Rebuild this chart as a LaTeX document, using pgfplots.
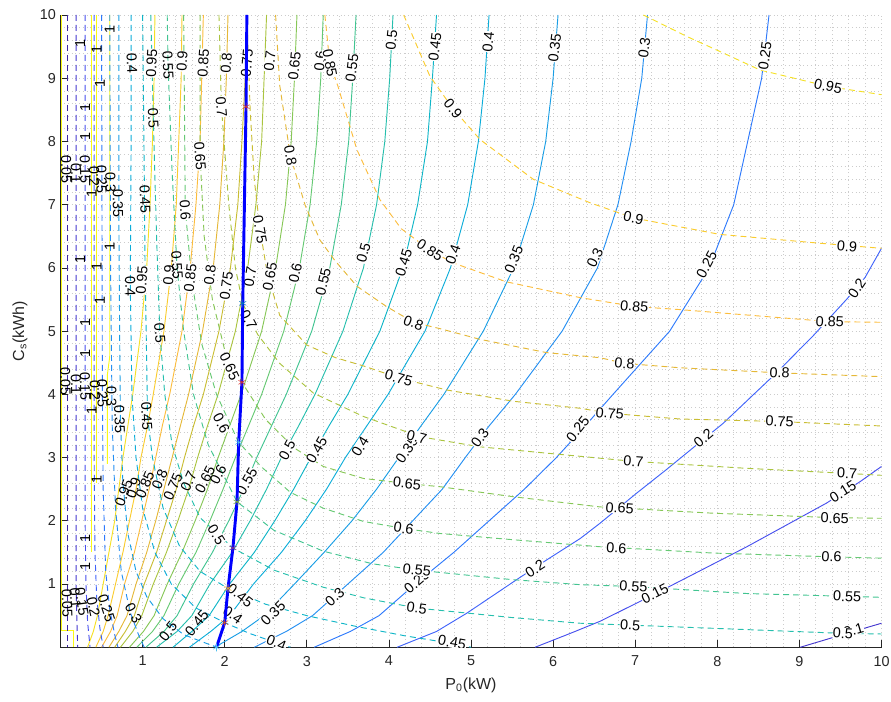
\documentclass[border=0pt]{standalone}
\usepackage{fontspec}
\setmainfont{Liberation Sans}
\usepackage{pgfplots}
\pgfplotsset{compat=1.18}
\definecolor{tickgray}{rgb}{0.15,0.15,0.15}
\definecolor{v05}{rgb}{0.24,0.15,0.66}
\definecolor{v10}{rgb}{0.27,0.22,0.81}
\definecolor{v15}{rgb}{0.28,0.31,0.93}
\definecolor{v20}{rgb}{0.25,0.39,0.98}
\definecolor{v25}{rgb}{0.18,0.48,0.99}
\definecolor{v30}{rgb}{0.14,0.56,0.95}
\definecolor{v35}{rgb}{0.10,0.62,0.90}
\definecolor{v40}{rgb}{0.05,0.68,0.85}
\definecolor{v45}{rgb}{0.06,0.71,0.78}
\definecolor{v50}{rgb}{0.15,0.75,0.68}
\definecolor{v55}{rgb}{0.26,0.77,0.57}
\definecolor{v60}{rgb}{0.40,0.79,0.45}
\definecolor{v65}{rgb}{0.53,0.78,0.34}
\definecolor{v70}{rgb}{0.67,0.77,0.25}
\definecolor{v75}{rgb}{0.79,0.74,0.20}
\definecolor{v80}{rgb}{0.90,0.72,0.22}
\definecolor{v85}{rgb}{0.99,0.74,0.24}
\definecolor{v90}{rgb}{0.98,0.80,0.19}
\definecolor{v95}{rgb}{0.96,0.88,0.15}
\definecolor{v100}{rgb}{0.98,0.98,0.08}
\definecolor{mblue}{rgb}{0,0.447,0.741}
\definecolor{morange}{rgb}{0.85,0.325,0.098}
\definecolor{myellow}{rgb}{0.929,0.694,0.125}
\definecolor{mpurple}{rgb}{0.494,0.184,0.556}
\definecolor{mgreen}{rgb}{0.466,0.674,0.188}
\definecolor{mcyan}{rgb}{0.301,0.745,0.933}
\definecolor{mred}{rgb}{0.85,0.2,0.15}
\tikzset{
  S/.style={solid, line width=0.7pt, mark=none},
  D/.style={dash pattern=on 4.5pt off 3pt, line width=0.7pt, mark=none},
  lbl/.style={font=\fontsize{10.8}{12}\selectfont, inner sep=0.3pt, fill=white, text=black},
  lbn/.style={font=\fontsize{10.8}{12}\selectfont, inner sep=0.3pt, text=black},
}
\newcommand{\lab}[4]{\node[lbl,rotate=#3] at (axis cs:#1,#2) {#4};}
\newcommand{\lan}[4]{\node[lbn,rotate=#3] at (axis cs:#1,#2) {#4};}
\begin{document}
\begin{tikzpicture}
\path[use as bounding box] (-45.375pt,-41pt) rectangle (622.875pt,485.45pt);
\begin{axis}[
  at={(0pt,0pt)}, anchor=south west,
  scale only axis, width=615.75pt, height=474.2pt,
  xmin=0, xmax=10, ymin=0, ymax=10,
  xtick={1,2,3,4,5,6,7,8,9,10}, ytick={1,2,3,4,5,6,7,8,9,10},
  minor x tick num=4, minor y tick num=4,
  grid=both,
  major grid style={dash pattern=on 0.6pt off 2.2pt, gray!40, line width=0.5pt},
  minor grid style={dash pattern=on 0.6pt off 2.2pt, gray!40, line width=0.5pt},
  axis x line*=bottom, axis y line*=left,
  x axis line style={-, tickgray, line width=0.6pt},
  y axis line style={-, tickgray, line width=0.6pt},
  tick align=inside, major tick length=5.8pt, minor tick length=0pt,
  tick style={tickgray, line width=0.6pt},
  /pgf/number format/assume math mode=true,
  ticklabel style={font=\fontsize{10.8}{12}\selectfont, text=tickgray},
  xticklabel style={yshift=-3pt},
  xlabel={P\textsubscript{0}(kW)}, ylabel={C\textsubscript{s}(kWh)},
  xlabel style={at={(axis description cs:0.5,-0.0601)}, anchor=center, font=\fontsize{12}{14}\selectfont, text=tickgray},
  ylabel style={at={(axis description cs:-0.0494,0.5)}, anchor=center, rotate=0, font=\fontsize{12}{14}\selectfont, text=tickgray},
]
% ---------------- solid family ----------------
\addplot[S, v100] coordinates {(0.015,10)(0.015,0.27)(0.16,0.27)(0.16,0)};
\addplot[S, v100] coordinates {(0.38,10)(0.38,1.5)};
\addplot[S, v100] coordinates {(0.44,10)(0.44,2.6)};
\addplot[S, v100] coordinates {(0.60,10)(0.60,4.6)(0.57,4.3)(0.57,2.9)};
\addplot[S, v95] coordinates {(0.33,0)(0.40,0.25)(0.45,0.5)(0.52,1)(0.59,1.5)(0.66,2)(0.71,2.5)(0.76,3)(0.82,3.5)(0.88,4)(0.98,5)(1.05,6)(1.09,7)(1.12,8)(1.14,9)(1.15,10)};
\addplot[S, v90] coordinates {(0.43,0)(0.52,0.25)(0.58,0.5)(0.67,1)(0.76,1.5)(0.84,2)(0.92,2.5)(0.98,3)(1.06,3.5)(1.13,4)(1.26,5)(1.35,6)(1.41,7)(1.44,8)(1.47,9)(1.48,10)};
\addplot[S, v85] coordinates {(0.50,0)(0.61,0.25)(0.69,0.5)(0.78,1)(0.90,1.5)(0.99,2)(1.08,2.5)(1.16,3)(1.24,3.5)(1.33,4)(1.48,5)(1.58,6)(1.65,7)(1.70,8)(1.72,9)(1.74,10)};
\addplot[S, v80] coordinates {(0.59,0)(0.71,0.25)(0.81,0.5)(0.92,1)(1.05,1.5)(1.16,2)(1.26,2.5)(1.36,3)(1.46,3.5)(1.56,4)(1.73,5)(1.86,6)(1.94,7)(1.99,8)(2.02,9)(2.04,10)};
\addplot[S, v75] coordinates {(0.66,0)(0.79,0.25)(0.90,0.5)(1.02,1)(1.17,1.5)(1.29,2)(1.41,2.5)(1.51,3)(1.62,3.5)(1.74,4)(1.93,5)(2.07,6)(2.16,7)(2.21,8)(2.25,9)(2.27,10)};
\addplot[S, v70] coordinates {(0.73,0)(0.88,0.25)(0.99,0.5)(1.13,1)(1.29,1.5)(1.43,2)(1.56,2.5)(1.67,3)(1.79,3.5)(1.92,4)(2.13,5)(2.28,6)(2.38,7)(2.45,8)(2.48,9)(2.51,10)};
\addplot[S, v65] coordinates {(0.84,0)(1.01,0.25)(1.14,0.5)(1.30,1)(1.48,1.5)(1.64,2)(1.79,2.5)(1.92,3)(2.06,3.5)(2.20,4)(2.45,5)(2.62,6)(2.74,7)(2.81,8)(2.85,9)(2.88,10)};
\addplot[S, v60] coordinates {(0.93,0)(1.12,0.25)(1.26,0.5)(1.44,1)(1.65,1.5)(1.82,2)(1.98,2.5)(2.13,3)(2.29,3.5)(2.45,4)(2.72,5)(2.91,6)(3.04,7)(3.12,8)(3.17,9)(3.20,10)};
\addplot[S, v55] coordinates {(1.04,0)(1.26,0.25)(1.42,0.5)(1.62,1)(1.85,1.5)(2.05,2)(2.23,2.5)(2.39,3)(2.57,3.5)(2.75,4)(3.06,5)(3.28,6)(3.42,7)(3.51,8)(3.56,9)(3.60,10)};
\addplot[S, v50] coordinates {(1.17,0)(1.42,0.25)(1.60,0.5)(1.82,1)(2.09,1.5)(2.31,2)(2.51,2.5)(2.69,3)(2.90,3.5)(3.10,4)(3.44,5)(3.69,6)(3.85,7)(3.95,8)(4.01,9)(4.05,10)};
\addplot[S, v45] coordinates {(1.37,0)(1.60,0.25)(1.81,0.5)(2.06,1)(2.36,1.5)(2.61,2)(2.84,2.5)(3.05,3)(3.27,3.5)(3.50,4)(3.89,5)(4.17,6)(4.35,7)(4.47,8)(4.53,9)(4.58,10)};
\addplot[S, v40] coordinates {(1.57,0)(1.83,0.25)(2.06,0.5)(2.35,1)(2.69,1.5)(2.98,2)(3.24,2.5)(3.47,3)(3.73,3.5)(3.99,4)(4.44,5)(4.75,6)(4.96,7)(5.09,8)(5.17,9)(5.22,10)};
\addplot[S, v35] coordinates {(1.88,0)(2.21,0.25)(2.48,0.5)(2.85,1)(3.21,1.5)(3.55,2)(3.85,2.5)(4.12,3)(4.39,3.5)(4.67,4)(5.15,5)(5.52,6)(5.76,7)(5.91,8)(6.00,9)(6.06,10)};
\addplot[S, v30] coordinates {(2.36,0)(2.75,0.25)(3.07,0.5)(3.50,1)(3.93,1.5)(4.29,2)(4.65,2.5)(4.93,3)(5.22,3.5)(5.54,4)(6.11,5)(6.54,6)(6.79,7)(6.95,8)(7.08,9)(7.15,10)};
\addplot[S, v25] coordinates {(3.09,0)(3.53,0.25)(3.88,0.5)(4.32,1)(4.79,1.5)(5.22,2)(5.65,2.5)(6.04,3)(6.39,3.5)(6.73,4)(7.42,5)(7.90,6)(8.20,7)(8.37,8)(8.54,9)(8.63,10)};
\addplot[S, v20] coordinates {(4.10,0)(4.58,0.25)(4.95,0.54)(5.58,1.09)(5.92,1.38)(6.33,1.72)(6.57,1.96)(7.02,2.44)(7.38,2.81)(7.87,3.33)(8.07,3.54)(8.72,4.34)(9.17,4.93)(9.58,5.51)(9.80,5.85)(10,6.31)};
\addplot[S, v15] coordinates {(5.78,0)(6.21,0.22)(6.57,0.41)(7.02,0.70)(7.46,0.99)(8.36,1.59)(9.33,2.28)(9.74,2.62)(10,2.86)};
\addplot[S, v10] coordinates {(9.01,0)(9.50,0.19)(10,0.38)};
% ---------------- dashed family ----------------
\addplot[D, v05] coordinates {(0.08,10)(0.08,0)};
\addplot[D, v10] coordinates {(0.19,10)(0.19,1.0)(0.20,0.4)(0.21,0)};
\addplot[D, v15] coordinates {(0.30,10)(0.30,2.0)(0.31,1.0)(0.33,0.4)(0.36,0)};
\addplot[D, v20] coordinates {(0.41,10)(0.41,3.0)(0.42,1.5)(0.44,0.8)(0.48,0.3)(0.52,0)};
\addplot[D, v25] coordinates {(0.50,10)(0.51,4.0)(0.52,2.5)(0.55,1.2)(0.60,0.6)(0.66,0.2)(0.70,0)};
\addplot[D, v30] coordinates {(0.60,10)(0.61,6.0)(0.63,3.5)(0.67,2.2)(0.74,1.2)(0.85,0.55)(0.95,0.2)(1.02,0)};
\addplot[D, v35] coordinates {(0.71,10)(0.71,7.0)(0.72,5.0)(0.73,3.6)(0.76,2.6)(0.82,1.8)(0.92,1.2)(1.05,0.8)(1.25,0.45)(1.50,0.2)(1.90,0)};
\addplot[D, v40] coordinates {(0.86,10)(0.86,8.0)(0.85,5.7)(0.87,4.0)(0.92,3.0)(1.00,2.2)(1.15,1.5)(1.35,1.0)(1.65,0.62)(2.00,0.39)(2.30,0.22)(2.63,0.07)(2.80,0)};
\addplot[D, v45] coordinates {(1.00,10)(1.02,7.5)(1.03,6.0)(1.05,4.5)(1.06,3.65)(1.12,3.0)(1.25,2.2)(1.45,1.6)(1.70,1.2)(2.04,0.93)(2.50,0.68)(3.00,0.50)(3.60,0.33)(4.20,0.18)(4.77,0.06)(5.00,0)};
\addplot[D, v50] coordinates {(1.10,10)(1.13,8.37)(1.17,6.5)(1.21,4.97)(1.27,4.0)(1.36,3.2)(1.50,2.6)(1.70,2.05)(2.10,1.57)(2.60,1.22)(3.20,0.95)(3.70,0.78)(4.34,0.62)(5.50,0.47)(6.33,0.38)(6.94,0.35)(7.95,0.30)(9.53,0.22)(10,0.21)};
\addplot[D, v55] coordinates {(1.30,10)(1.31,9.21)(1.36,7.5)(1.42,6.0)(1.50,5.0)(1.62,4.0)(1.80,3.2)(2.15,2.30)(2.60,1.85)(3.20,1.52)(3.80,1.32)(4.34,1.22)(5.50,1.07)(6.33,0.99)(6.98,0.96)(8.36,0.85)(10,0.79)};
\addplot[D, v60] coordinates {(1.50,10)(1.51,8.5)(1.52,6.92)(1.60,5.8)(1.72,4.8)(1.90,4.0)(2.17,3.24)(2.45,2.85)(2.80,2.45)(3.20,2.20)(3.69,1.99)(4.18,1.88)(4.62,1.80)(5.52,1.70)(6.57,1.59)(7.95,1.49)(9.39,1.43)(10,1.41)};
\addplot[D, v65] coordinates {(1.70,10)(1.70,7.77)(1.75,6.5)(1.85,5.5)(2.00,4.7)(2.21,4.19)(2.50,3.6)(2.85,3.15)(3.20,2.86)(3.69,2.67)(4.22,2.59)(4.62,2.54)(5.52,2.38)(6.57,2.22)(7.95,2.12)(9.43,2.05)(10,2.04)};
\addplot[D, v70] coordinates {(1.93,10)(1.96,8.55)(2.05,7.0)(2.13,6.0)(2.22,5.44)(2.40,4.95)(2.67,4.49)(3.08,4.02)(3.69,3.65)(4.38,3.33)(5.11,3.17)(6.33,3.02)(6.98,2.94)(8.36,2.83)(9.58,2.75)(10,2.72)};
\addplot[D, v75] coordinates {(2.27,10)(2.31,8.5)(2.36,7.4)(2.43,6.61)(2.52,5.9)(2.67,5.25)(3.00,4.78)(3.35,4.58)(3.69,4.45)(4.12,4.26)(4.70,4.07)(5.52,3.89)(6.33,3.78)(6.69,3.70)(7.55,3.61)(8.76,3.57)(10,3.50)};
\addplot[D, v80] coordinates {(2.62,10)(2.67,8.89)(2.80,7.77)(2.98,6.99)(3.16,6.44)(3.34,6.12)(3.61,5.71)(3.97,5.39)(4.30,5.14)(4.62,5.04)(5.11,4.87)(5.92,4.66)(6.57,4.58)(6.87,4.49)(7.55,4.42)(8.76,4.34)(10,4.28)};
\addplot[D, v85] coordinates {(3.22,10)(3.28,9.24)(3.38,8.87)(3.61,7.87)(3.89,7.08)(4.15,6.62)(4.50,6.28)(4.78,6.08)(5.43,5.78)(6.33,5.53)(6.99,5.39)(7.55,5.34)(8.60,5.23)(9.37,5.15)(10,5.14)};
\addplot[D, v90] coordinates {(4.18,10)(4.50,9.03)(4.78,8.52)(5.11,8.03)(5.76,7.40)(6.45,7.03)(6.98,6.79)(8.03,6.53)(9.25,6.39)(10,6.31)};
\addplot[D, v95] coordinates {(7.10,10)(7.63,9.66)(8.07,9.40)(8.52,9.13)(9.35,8.87)(10,8.74)};
% ---------------- labels: solid family ----------------
\lab{1.11}{9.24}{87}{0.95} \lab{1.48}{9.27}{86}{0.9} \lab{1.74}{9.24}{86}{0.85}
\lab{2.02}{9.24}{85}{0.8} \lab{2.27}{9.24}{85}{0.75} \lab{2.55}{9.27}{84}{0.7}
\lab{2.85}{9.19}{84}{0.65} \lab{3.16}{9.27}{84}{0.6} \lab{3.55}{9.16}{83}{0.55}
\lab{4.03}{9.61}{84}{0.5} \lab{4.56}{9.50}{83}{0.45} \lab{5.21}{9.58}{84}{0.4}
\lab{6.02}{9.48}{83}{0.35} \lab{7.11}{9.48}{82}{0.3} \lab{8.58}{9.35}{82}{0.25}
\lab{0.99}{5.81}{86}{0.95} \lab{1.32}{5.88}{85}{0.9} \lab{1.58}{5.84}{84}{0.85}
\lab{1.82}{5.89}{83}{0.8} \lab{2.02}{5.71}{82}{0.75} \lab{2.31}{5.86}{81}{0.7}
\lab{2.55}{5.86}{79}{0.65} \lab{2.86}{5.92}{78}{0.6} \lab{3.20}{5.78}{77}{0.55}
\lab{3.69}{6.24}{75}{0.5} \lab{4.18}{6.08}{73}{0.45} \lab{4.78}{6.21}{71}{0.4}
\lab{5.52}{6.13}{68}{0.35} \lab{6.51}{6.16}{65}{0.3} \lab{7.87}{6.05}{62}{0.25}
\lab{9.70}{5.68}{56}{0.2}
\lab{2.76}{3.12}{62}{0.5} \lab{3.12}{3.12}{60}{0.45} \lab{3.65}{3.17}{58}{0.4}
\lab{4.22}{3.12}{55}{0.35} \lab{5.11}{3.31}{54}{0.3} \lab{6.30}{3.45}{52}{0.25}
\lab{7.83}{3.31}{40}{0.2}
\lan{0.77}{2.44}{70}{0.95} \lan{0.89}{2.52}{70}{0.9} \lan{1.03}{2.57}{68}{0.85}
\lan{1.21}{2.66}{67}{0.8} \lan{1.37}{2.54}{66}{0.75} \lan{1.56}{2.62}{65}{0.7}
\lan{1.76}{2.65}{63}{0.65} \lan{1.92}{2.73}{62}{0.6} \lab{2.27}{2.62}{60}{0.55}
\lan{1.31}{0.25}{52}{0.5} \lan{1.66}{0.38}{50}{0.45} \lab{2.59}{0.54}{45}{0.35}
\lab{3.34}{0.80}{42}{0.3} \lab{4.34}{1.04}{41}{0.25} \lab{5.78}{1.24}{33}{0.2}
\lab{7.24}{0.85}{27}{0.15} \lab{9.53}{2.46}{32}{0.15} \lab{9.66}{0.27}{16}{0.1}
% ones
\lan{0.24}{9.55}{90}{1} \lan{0.44}{9.45}{90}{1} \lan{0.48}{8.92}{90}{1} \lan{0.30}{8.53}{90}{1}
\lan{0.30}{8.08}{90}{1} \lan{0.38}{7.18}{90}{1} \lan{0.60}{9.77}{90}{1}
\lan{0.24}{6.13}{90}{1} \lan{0.44}{6.02}{90}{1} \lan{0.48}{5.49}{90}{1} \lan{0.30}{5.13}{90}{1}
\lan{0.30}{4.65}{90}{1} \lan{0.38}{3.75}{90}{1} \lan{0.60}{6.34}{90}{1}
\lan{0.44}{2.65}{90}{1} \lan{0.30}{1.72}{90}{1} \lan{0.30}{1.28}{90}{1}
% ---------------- labels: dashed family ----------------
\lan{0.07}{7.55}{-89}{0.05} \lan{0.19}{7.50}{-89}{0.1} \lan{0.30}{7.55}{-89}{0.15}
\lan{0.41}{7.45}{-89}{0.2} \lan{0.50}{7.40}{-89}{0.25} \lan{0.61}{7.35}{-89}{0.3}
\lan{0.06}{4.20}{-89}{0.05} \lan{0.19}{4.15}{-89}{0.1} \lan{0.30}{4.12}{-89}{0.15}
\lan{0.42}{4.07}{-89}{0.2} \lan{0.51}{4.02}{-89}{0.25} \lan{0.62}{3.96}{-89}{0.3}
\lan{0.08}{0.70}{-88}{0.05} \lan{0.18}{0.78}{-85}{0.1} \lan{0.26}{0.72}{-82}{0.15}
\lan{0.40}{0.64}{-78}{0.2} \lan{0.56}{0.62}{-72}{0.25} \lan{0.89}{0.54}{-62}{0.3}
\lan{0.70}{7.02}{-89}{0.35} \lan{0.72}{3.60}{-88}{0.35}
\lan{0.87}{9.24}{-88}{0.4} \lan{0.85}{5.71}{-89}{0.4}
\lan{1.03}{7.09}{-88}{0.45} \lan{1.05}{3.65}{-87}{0.45}
\lan{1.13}{8.37}{-87}{0.5} \lan{1.21}{4.97}{-86}{0.5}
\lan{1.31}{9.21}{-87}{0.55} \lan{1.42}{6.05}{-86}{0.55}
\lab{1.52}{6.92}{-86}{0.6} \lab{1.70}{7.77}{-86}{0.65} \lab{1.96}{8.55}{-85}{0.7}
\lab{2.43}{6.61}{-80}{0.75} \lab{2.80}{7.77}{-80}{0.8} \lab{3.28}{9.24}{-79}{0.85}
\lab{1.90}{1.78}{-58}{0.5} \lab{1.96}{3.54}{-62}{0.6} \lab{2.06}{4.44}{-65}{0.65}
\lab{2.29}{5.18}{-62}{0.7} \lab{2.19}{0.82}{-38}{0.45} \lab{2.10}{0.51}{-35}{0.4}
\lab{4.78}{8.52}{-52}{0.9} \lab{6.98}{6.79}{-12}{0.9} \lab{9.58}{6.34}{-5}{0.9}
\lab{9.35}{8.87}{-11}{0.95}
\lab{4.50}{6.28}{-33}{0.85} \lab{6.99}{5.39}{-5}{0.85} \lab{9.37}{5.15}{-2}{0.85}
\lab{4.30}{5.13}{-20}{0.8} \lab{6.87}{4.49}{-5}{0.8} \lab{8.76}{4.34}{-3}{0.8}
\lab{4.12}{4.26}{-16}{0.75} \lab{6.69}{3.70}{-5}{0.75} \lab{8.76}{3.57}{-3}{0.75}
\lab{4.34}{3.33}{-14}{0.7} \lab{6.98}{2.94}{-4}{0.7} \lab{9.58}{2.75}{-3}{0.7}
\lab{4.22}{2.59}{-6}{0.65} \lab{6.81}{2.20}{-4}{0.65} \lab{9.43}{2.04}{-1}{0.65}
\lab{4.18}{1.88}{-8}{0.6} \lab{6.77}{1.57}{-3}{0.6} \lab{9.39}{1.43}{-2}{0.6}
\lab{4.34}{1.22}{-6}{0.55} \lab{6.98}{0.96}{-4}{0.55} \lab{9.58}{0.80}{-3}{0.55}
\lab{4.34}{0.62}{-8}{0.5} \lab{6.94}{0.35}{-4}{0.5} \lab{9.53}{0.22}{-3}{0.5}
\lab{4.77}{0.08}{-10}{0.45} \lab{2.63}{0.07}{-22}{0.4}
% ---------------- optimal line ----------------
\addplot[blue, line width=2.2pt, mark=none] coordinates {(1.90,0)(2.00,0.39)(2.04,0.93)(2.10,1.57)(2.15,2.30)(2.17,3.24)(2.21,4.19)(2.22,5.44)(2.24,7.0)(2.26,8.55)(2.27,10)};
\addplot[only marks, mark=asterisk, mark size=3pt, mred] coordinates {(2.26,8.55)};
\addplot[only marks, mark=asterisk, mark size=3pt, mblue] coordinates {(2.22,5.44)};
\addplot[only marks, mark=asterisk, mark size=3pt, mred] coordinates {(2.21,4.19)};
\addplot[only marks, mark=asterisk, mark size=3pt, mcyan] coordinates {(2.17,3.24)};
\addplot[only marks, mark=asterisk, mark size=3pt, mgreen] coordinates {(2.15,2.30)};
\addplot[only marks, mark=asterisk, mark size=3pt, mpurple] coordinates {(2.10,1.57)};
\addplot[only marks, mark=asterisk, mark size=3pt, myellow] coordinates {(2.04,0.93)};
\addplot[only marks, mark=asterisk, mark size=3pt, morange] coordinates {(2.00,0.39)};
\addplot[only marks, mark=asterisk, mark size=3pt, mcyan] coordinates {(1.90,0.0)};
\end{axis}
\end{tikzpicture}
\end{document}
